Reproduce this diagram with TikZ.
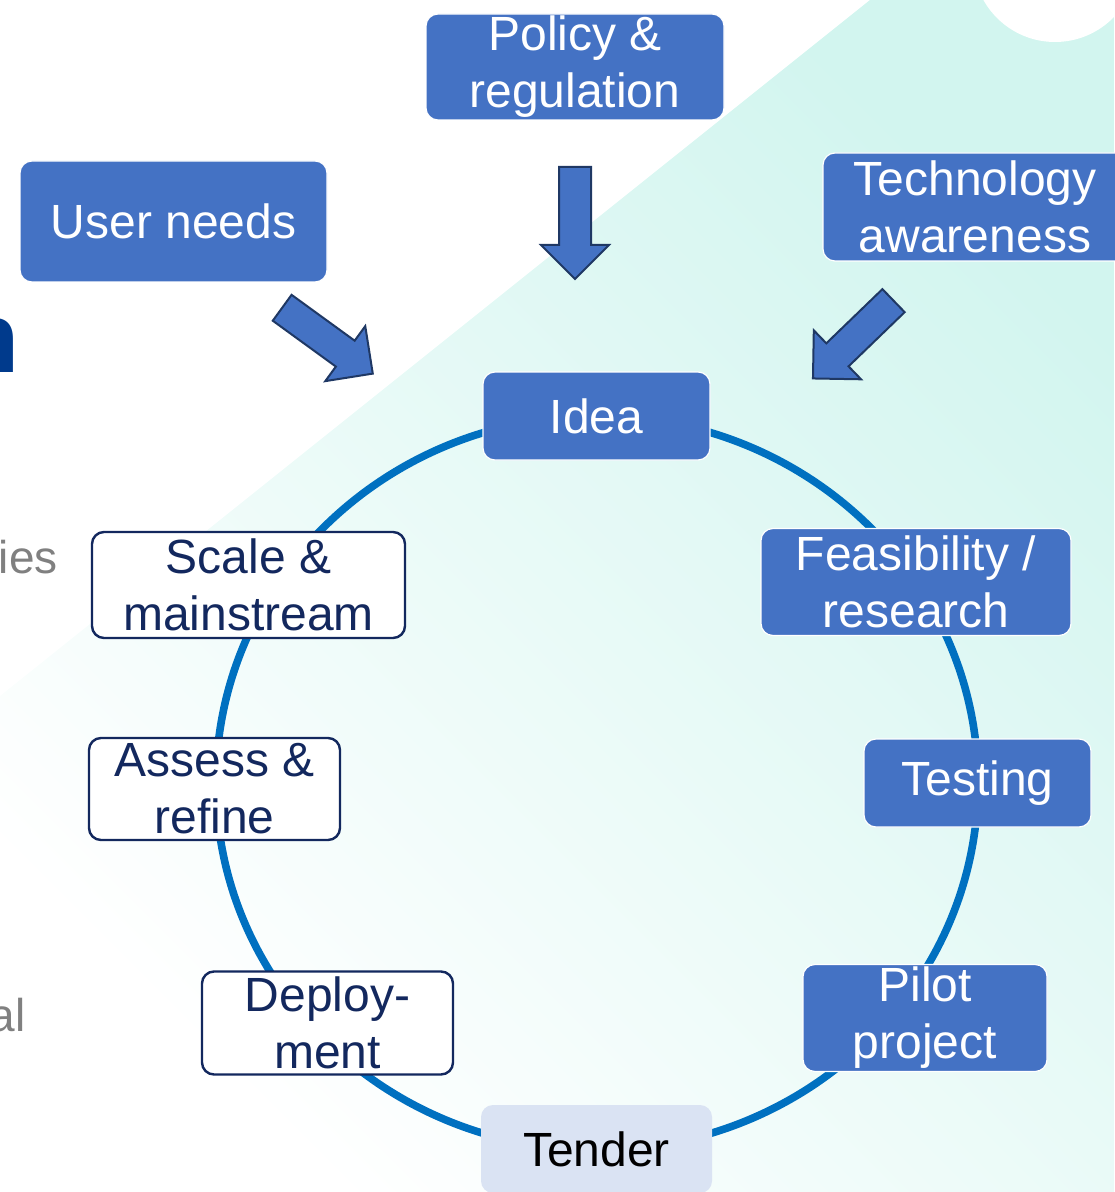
\documentclass[tikz,border=0pt]{standalone}
\usepackage{fontspec}
\setmainfont{Liberation Sans}
\usetikzlibrary{positioning, shapes.arrows}

\definecolor{boxblue}{HTML}{4472C4}
\definecolor{ringblue}{HTML}{0070C0}
\definecolor{navy}{HTML}{13285E}
\definecolor{arrowline}{HTML}{1F3864}
\definecolor{tenderfill}{HTML}{DAE3F3}
\definecolor{mint}{HTML}{D2F5EF}
\definecolor{titleblue}{HTML}{003A8C}
\definecolor{sidegray}{HTML}{808080}

\tikzset{
  phase/.style={rectangle, rounded corners=6pt, fill=boxblue, draw=white, line width=0.6pt,
    text=white, align=center, inner sep=0pt, font=\fontsize{24}{28.5}\selectfont},
  plain/.style={phase, fill=white, draw=navy, line width=1.2pt, text=navy},
  light/.style={phase, fill=tenderfill, draw=none, text=black},
  push/.style={single arrow, draw=arrowline, fill=boxblue, line width=1pt, minimum height=56pt,
    minimum width=33pt, single arrow head extend=9pt, inner xsep=0pt, inner ysep=7.5pt},
  side/.style={inner sep=0pt, text=sidegray, font=\fontsize{23}{28}\selectfont}
}

\begin{document}
\begin{tikzpicture}[x=0.5pt, y=-0.5pt]
    \useasboundingbox (0,0) rectangle (1114,1192);
    % background
    \shade[top color=mint, middle color=mint!18, bottom color=white, shading angle=-45]
        (870,0) -- (1114,0) -- (1114,1192) -- (0,1192) -- (0,696) -- cycle;
    \fill[white] (1055,-40) circle[radius=41pt];

    % cut-off text at the left edge
    \node[anchor=base east, inner sep=0pt, text=titleblue, font=\fontsize{50}{60}\selectfont\bfseries] (ttl) at (20,372) {n};
    \node[side, anchor=base east] (ies) at (58,573) {ies};
    \node[side, anchor=base east] (al) at (26,1031) {al};

    % the cycle
    \coordinate (c) at (597,783);
    \draw[ringblue, line width=3.8pt] (c) ellipse [x radius=190.5pt, y radius=183.5pt];

    % inputs
    \node[phase, minimum width=149pt, minimum height=53pt] (policy) at (575,67) {Policy \&\\regulation};
    \node[phase, minimum width=153.5pt, minimum height=60.5pt] (user) at (173.5,221.5) {User needs};
    \node[phase, minimum width=152pt, minimum height=54pt] (tech) at (975,207) {Technology\\awareness};

    % stages
    \node[phase, minimum width=113.5pt, minimum height=44pt] (idea) at (596.5,416) {Idea};
    \node[phase, minimum width=155pt, minimum height=53.5pt] (feas) at (916,582) {Feasibility /\\research};
    \node[phase, minimum width=113.5pt, minimum height=44pt] (test) at (977.5,783) {Testing};
    \node[phase, minimum width=122pt, minimum height=53.5pt] (pilot) at (925,1018) {Pilot\\project};
    \node[light, minimum width=115.5pt, minimum height=44pt] (tender) at (596.5,1149) {Tender};
    \node[plain, minimum width=125.5pt, minimum height=51.5pt] (deploy) at (327.5,1023) {Deploy-\\ment};
    \node[plain, minimum width=125.5pt, minimum height=51pt] (assess) at (214.5,789) {Assess \&\\refine};
    \node[plain, minimum width=156.5pt, minimum height=53pt] (scale) at (248.5,585) {Scale \&\\mainstream};

    % block arrows into the idea
    \node[push, rotate=-90] (pa) at (575,215) {};
    \node[push, rotate=-36] (ua) at (321,336) {};
    \node[push, rotate=-136] (ta) at (859,334) {};
\end{tikzpicture}
\end{document}
